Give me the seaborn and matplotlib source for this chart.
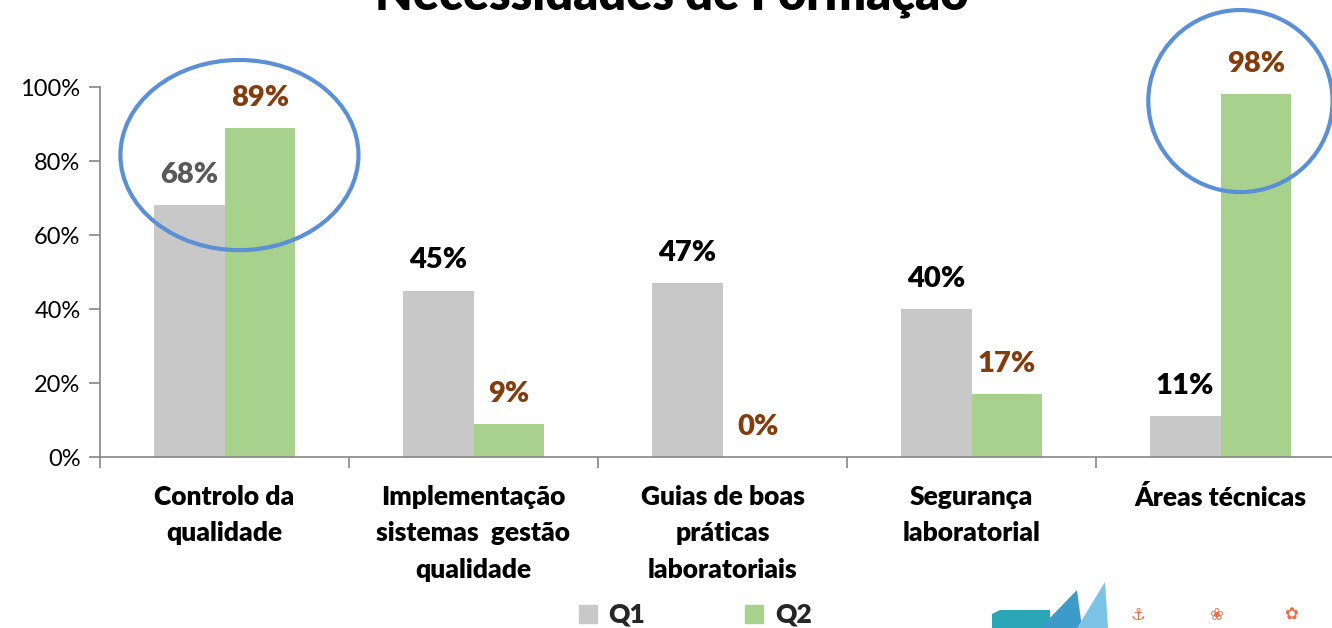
import matplotlib
matplotlib.use("Agg")
import matplotlib.pyplot as plt
import seaborn as sns
import pandas as pd
from matplotlib.patches import Ellipse, Polygon
from matplotlib.lines import Line2D

categories = ["Controlo da\nqualidade",
              "Implementação\nsistemas  gestão\nqualidade",
              "Guias de boas\npráticas\nlaboratoriais",
              "Segurança\nlaboratorial",
              "Áreas técnicas"]
q1 = [68, 45, 47, 40, 11]
q2 = [89, 9, 0, 17, 98]
series = ["Q1", "Q2"]
yticks = [0, 20, 40, 60, 80, 100]
title = "Necessidades de Formação"

colors = {"Q1": "#C8C8C8", "Q2": "#A9D18E"}
label_colors_q1 = ["#595959", "#000000", "#000000", "#000000", "#000000"]
label_color_q2 = "#843C0C"

sns.set_theme(style="white")
plt.rcParams['font.family'] = ['Lato', 'DejaVu Sans']

df = pd.DataFrame({
    "cat": categories * 2,
    "serie": ["Q1"] * len(categories) + ["Q2"] * len(categories),
    "val": q1 + q2,
})

fig = plt.figure(figsize=(13.32, 6.28), dpi=100)
ax = fig.add_axes([100 / 1332, (628 - 457) / 628, 1245 / 1332, 370 / 628])

sns.barplot(data=df, x="cat", y="val", hue="serie", palette=colors,
            width=0.57, ax=ax, legend=False, saturation=1, linewidth=0)

ax.set_xlim(-0.5, 4.5)
ax.set_ylim(0, 100)
ax.set_xlabel("")
ax.set_ylabel("")
for s in ["top", "right"]:
    ax.spines[s].set_visible(False)
for s in ["left", "bottom"]:
    ax.spines[s].set_color("#868686")
    ax.spines[s].set_linewidth(1.2)

ax.set_yticks(yticks)
ax.set_yticklabels([f"{v}%" for v in yticks], fontsize=17, color="#000000")
ax.tick_params(axis="y", direction="out", length=8, width=1.2, color="#868686", pad=6, left=True)
ax.set_xticks(range(len(categories)))
ax.set_xticklabels(categories, fontsize=19, fontweight="heavy", color="#000000",
                   linespacing=1.62, va="top")
ax.tick_params(axis="x", length=0, pad=20)
ax.set_xticks([i - 0.5 for i in range(len(categories) + 1)], minor=True)
ax.tick_params(axis="x", which="minor", direction="out", length=8, width=1.2, color="#868686", bottom=True)

# value labels
bars_q1 = ax.containers[0]
bars_q2 = ax.containers[1]
for i, b in enumerate(bars_q1):
    ax.annotate(f"{q1[i]}%", (b.get_x() + b.get_width() / 2, b.get_height()),
                xytext=(0, 30), textcoords="offset pixels",
                ha="center", va="center", fontsize=21, fontweight="heavy",
                color=label_colors_q1[i])
for i, b in enumerate(bars_q2):
    ax.annotate(f"{q2[i]}%", (b.get_x() + b.get_width() / 2, b.get_height()),
                xytext=(0, 30), textcoords="offset pixels",
                ha="center", va="center", fontsize=21, fontweight="heavy",
                color=label_color_q2)

# highlight ellipses
ax.add_patch(Ellipse((0.06, 81.6), 0.956, 51.4, fill=False, edgecolor="#5B8FD6",
                     linewidth=3, clip_on=False, zorder=5))
ax.add_patch(Ellipse((4.08, 96.2), 0.74, 49.2, fill=False, edgecolor="#5B8FD6",
                     linewidth=3, clip_on=False, zorder=5))

# title (cropped at top, as in the reference)
fig.text(672 / 1332, 1 - 10 / 628, title, ha="center", va="baseline",
         fontsize=35, fontweight="heavy", color="#000000")

# legend
handles = [Line2D([0], [0], marker="s", linestyle="none", markersize=13,
                  markerfacecolor=colors[s], markeredgecolor=colors[s]) for s in series]
fig.legend(handles, series, loc="center", bbox_to_anchor=(693 / 1332, 1 - 615 / 628),
           ncol=2, frameon=False, prop={"size": 19, "weight": "heavy"},
           handletextpad=0.3, columnspacing=3.6, handlelength=1.0)

# decorative logo (bottom right)
fig.patches.append(Polygon([(992 / 1332, 0), (992 / 1332, 14 / 628), (1000 / 1332, 18 / 628),
                            (1050 / 1332, 18 / 628), (1050 / 1332, 0)],
                           closed=True, transform=fig.transFigure, facecolor="#2BA6B7",
                           edgecolor="none"))
fig.patches.append(Polygon([(1040 / 1332, 0), (1077 / 1332, 38 / 628), (1082 / 1332, 0)],
                           closed=True, transform=fig.transFigure, facecolor="#3E9BC9",
                           edgecolor="none"))
fig.patches.append(Polygon([(1077 / 1332, 0), (1105 / 1332, 46 / 628), (1108 / 1332, 0)],
                           closed=True, transform=fig.transFigure, facecolor="#7CC3E6",
                           edgecolor="none"))
for xp in [1138, 1216, 1291]:
    fig.text(xp / 1332, 4 / 628, "✿" if xp == 1291 else "⚓" if xp == 1138 else "❀",
             ha="center", va="bottom", fontsize=12, color="#E8704A",
             family=["DejaVu Sans"])

fig.savefig("out.png", dpi=100)
